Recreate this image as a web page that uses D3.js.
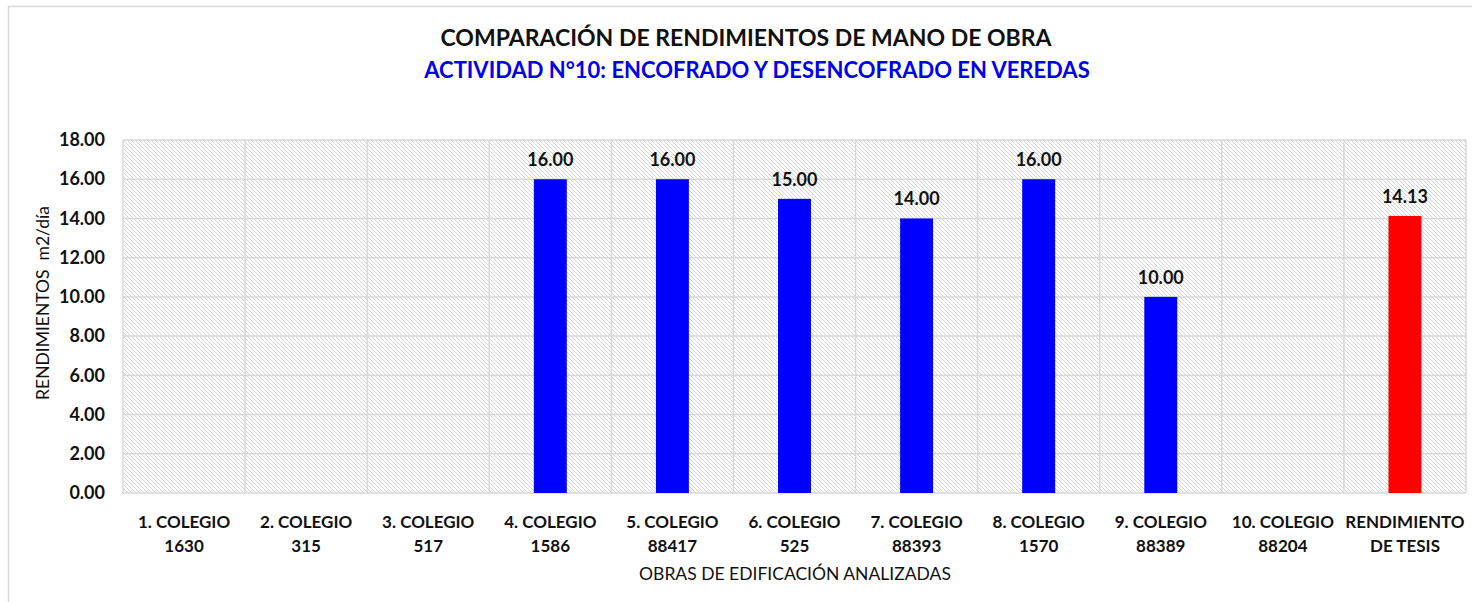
<!DOCTYPE html>
<html>
<head>
<meta charset="utf-8">
<script src="https://cdn.jsdelivr.net/npm/d3@7"></script>
<style>
  body { margin: 0; background: #fff; }
  text { font-family: Lato, "Open Sans", sans-serif; }
</style>
</head>
<body>
<div id="chart"></div>
<script>
// chart data
var categories = [
    ["1. COLEGIO", "1630"], ["2. COLEGIO", "315"], ["3. COLEGIO", "517"],
    ["4. COLEGIO", "1586"], ["5. COLEGIO", "88417"], ["6. COLEGIO", "525"],
    ["7. COLEGIO", "88393"], ["8. COLEGIO", "1570"], ["9. COLEGIO", "88389"],
    ["10. COLEGIO", "88204"], ["RENDIMIENTO", "DE TESIS"]
];
var values = [null, null, null, 16.00, 16.00, 15.00, 14.00, 16.00, 10.00, null, 14.13];
var barColors = ["#0000ff", "#0000ff", "#0000ff", "#0000ff", "#0000ff", "#0000ff",
    "#0000ff", "#0000ff", "#0000ff", "#0000ff", "#ff0000"];
var yTicks = [0, 2, 4, 6, 8, 10, 12, 14, 16, 18];

var width = 1472, height = 602;
var margin = { top: 140, right: 6, bottom: 109, left: 123 };
var plotW = width - margin.left - margin.right;
var plotH = height - margin.top - margin.bottom;

var svg = d3.select("#chart").append("svg")
    .attr("width", width)
    .attr("height", height);

// hatch fill for plot area
var defs = svg.append("defs");
var pat = defs.append("pattern")
    .attr("id", "hatch")
    .attr("patternUnits", "userSpaceOnUse")
    .attr("width", 4)
    .attr("height", 4);
pat.append("rect").attr("width", 4).attr("height", 4).attr("fill", "#ffffff");
pat.append("path")
    .attr("d", "M-1,-1 L5,5 M-1,3 L1,5 M3,-1 L5,1")
    .attr("stroke", "#d4d4d4")
    .attr("stroke-width", 1);

// outer chart border
svg.append("rect")
    .attr("x", 8.5).attr("y", 6.5)
    .attr("width", width).attr("height", height)
    .attr("fill", "none")
    .attr("stroke", "#d9d9d9")
    .attr("stroke-width", 1.5);

// titles
svg.append("text")
    .attr("x", 746).attr("y", 46)
    .attr("text-anchor", "middle")
    .attr("font-size", 23).attr("font-weight", "bold")
    .attr("fill", "#111")
    .text("COMPARACIÓN DE RENDIMIENTOS DE MANO DE OBRA");
svg.append("text")
    .attr("x", 757).attr("y", 78)
    .attr("text-anchor", "middle")
    .attr("font-size", 22).attr("font-weight", "bold")
    .attr("fill", "#0000ee")
    .text("ACTIVIDAD N°10: ENCOFRADO Y DESENCOFRADO EN VEREDAS");

var g = svg.append("g")
    .attr("transform", "translate(" + margin.left + "," + margin.top + ")");

var x = d3.scaleBand()
    .domain(d3.range(categories.length))
    .range([0, plotW])
    .padding(0);

var y = d3.scaleLinear()
    .domain([0, 18])
    .range([plotH, 0]);

g.append("rect")
    .attr("width", plotW).attr("height", plotH)
    .attr("fill", "url(#hatch)");

// horizontal gridlines
g.selectAll(".hgrid")
    .data(yTicks)
    .enter().append("line")
    .attr("x1", 0).attr("x2", plotW)
    .attr("y1", function (d) { return y(d); })
    .attr("y2", function (d) { return y(d); })
    .attr("stroke", "#d9d9d9")
    .attr("stroke-width", 1.5);

// vertical gridlines at category boundaries
g.selectAll(".vgrid")
    .data(d3.range(categories.length + 1))
    .enter().append("line")
    .attr("x1", function (i) { return i * x.step(); })
    .attr("x2", function (i) { return i * x.step(); })
    .attr("y1", 0).attr("y2", plotH)
    .attr("stroke", "#d9d9d9")
    .attr("stroke-width", 1.5);

// y axis labels
var yAxis = d3.axisLeft(y)
    .tickValues(yTicks)
    .tickFormat(d3.format(".2f"))
    .tickSize(0)
    .tickPadding(18);
var ya = g.append("g").call(yAxis);
ya.select(".domain").remove();
ya.selectAll("text")
    .attr("font-size", 18).attr("font-weight", "bold")
    .attr("fill", "#111")
    .style("font-family", "Lato, 'Open Sans', sans-serif");

// bars
var barW = x.bandwidth() * 0.27;
var data = values.map(function (v, i) { return { i: i, v: v }; })
    .filter(function (d) { return d.v !== null; });

g.selectAll(".bar")
    .data(data)
    .enter().append("rect")
    .attr("x", function (d) { return x(d.i) + x.bandwidth() / 2 - barW / 2; })
    .attr("y", function (d) { return y(d.v); })
    .attr("width", barW)
    .attr("height", function (d) { return plotH - y(d.v); })
    .attr("fill", function (d) { return barColors[d.i]; });

g.selectAll(".val")
    .data(data)
    .enter().append("text")
    .attr("x", function (d) { return x(d.i) + x.bandwidth() / 2; })
    .attr("y", function (d) { return y(d.v) - 13; })
    .attr("text-anchor", "middle")
    .attr("font-size", 18).attr("font-weight", "bold")
    .attr("fill", "#111")
    .text(function (d) { return d3.format(".2f")(d.v); });

// category labels
var cl = g.selectAll(".cat")
    .data(categories)
    .enter().append("text")
    .attr("text-anchor", "middle")
    .attr("font-size", 17).attr("font-weight", "bold")
    .attr("fill", "#111")
    .attr("transform", function (d, i) {
        return "translate(" + (x(i) + x.bandwidth() / 2) + "," + (plotH + 35) + ")";
    });
cl.append("tspan").attr("x", 0).attr("y", 0).text(function (d) { return d[0]; });
cl.append("tspan").attr("x", 0).attr("y", 24).text(function (d) { return d[1]; });

// axis titles
svg.append("text")
    .attr("x", 795).attr("y", 580)
    .attr("text-anchor", "middle")
    .attr("font-size", 17.5)
    .attr("fill", "#111")
    .text("OBRAS DE EDIFICACIÓN ANALIZADAS");

svg.append("text")
    .attr("transform", "translate(49,303) rotate(-90)")
    .attr("text-anchor", "middle")
    .attr("font-size", 17.5)
    .attr("fill", "#111")
    .style("white-space", "pre")
    .text("RENDIMIENTOS  m2/día");
</script>
</body>
</html>
